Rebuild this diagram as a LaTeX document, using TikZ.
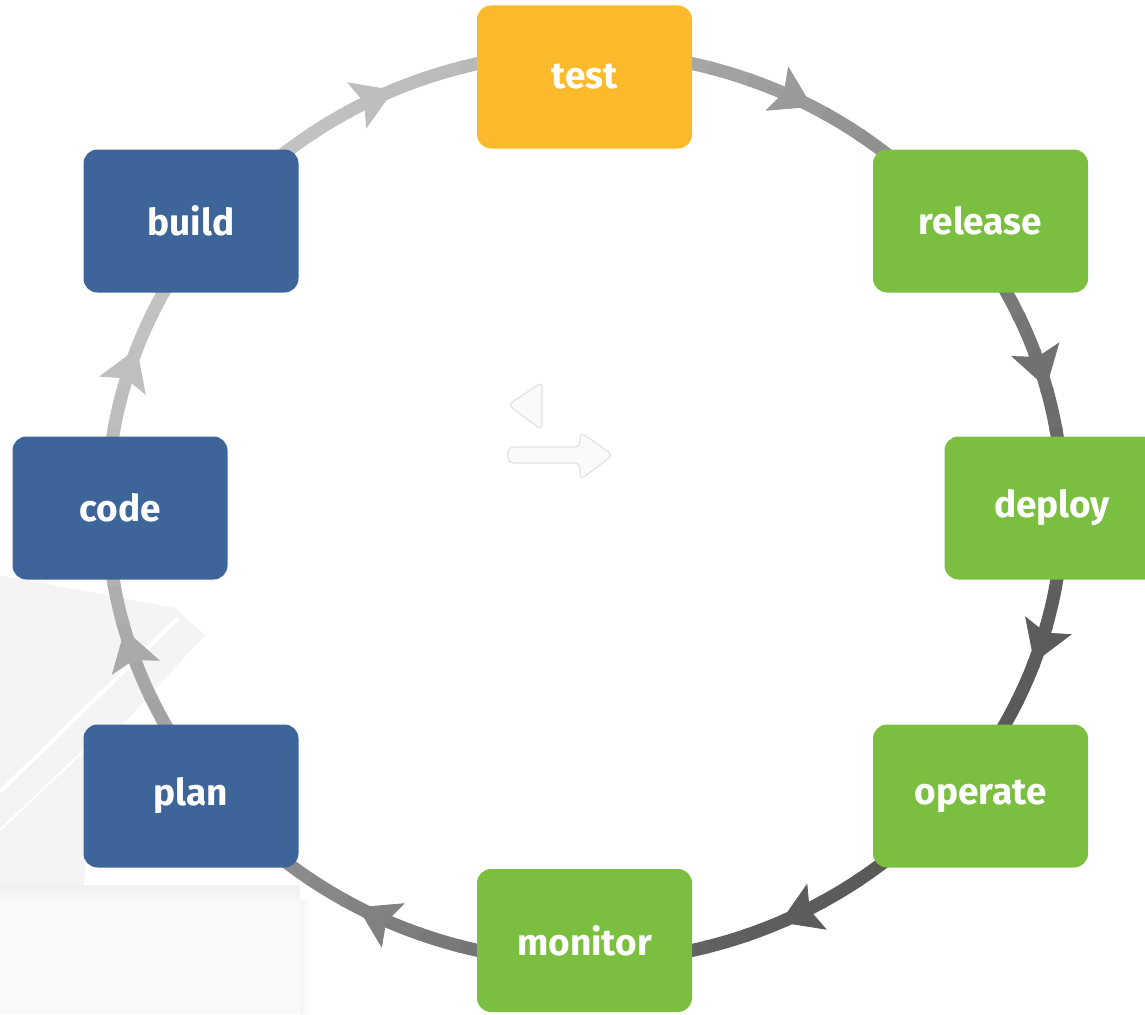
\documentclass[tikz,border=0pt]{standalone}
\usepackage{fontspec}
\setmainfont{Fira Sans}
\usetikzlibrary{arrows.meta}
\definecolor{nblue}{HTML}{3D659A}
\definecolor{ngreen}{HTML}{7BBF40}
\definecolor{nyellow}{HTML}{FBBA2C}
\definecolor{faint}{HTML}{F4F4F4}
\definecolor{faintb}{HTML}{F9F9F9}
\definecolor{iconline}{HTML}{E2E2E2}
\definecolor{iconfill}{HTML}{FAFAFA}
\begin{document}
\begin{tikzpicture}[x=1pt,y=-1pt,
  stepbox/.style={rounded corners=14pt, minimum width=215pt, minimum height=143pt,
    inner sep=0pt, text=white, font=\fontsize{37}{40}\selectfont\bfseries},
  bluebox/.style={stepbox, fill=nblue},
  greenbox/.style={stepbox, fill=ngreen},
  yellowbox/.style={stepbox, fill=nyellow},
  ringpiece/.style={line width=13pt, line cap=butt},
  tipstyle/.style={line width=0.8pt, -{Stealth[length=40pt,width=50pt,inset=8pt]}}
]
\useasboundingbox (0,0) rectangle (1145,1014);
\clip (0,0) rectangle (1145,1014);
% faint background shapes
\fill[faint] (0,575) -- (175,608) -- (205,635) -- (95,755) -- (84,885) -- (0,885) -- cycle;
\draw[white, line width=4pt] (0,792) -- (178,618);
\draw[white, line width=2pt] (0,830) -- (95,740);
\fill[faintb] (0,885) rectangle (300,1014);
\shade[top color=black!6, bottom color=faintb] (0,885) rectangle (300,902);
\shade[left color=black!4, right color=white] (300,900) rectangle (312,1014);
% centre icon
\draw[iconline, fill=iconfill, line width=1.2pt, rounded corners=5pt]
  (508,405) -- (542,382) -- (542,430) -- cycle;
\draw[iconline, fill=iconfill, line width=1.2pt, rounded corners=5pt]
  (508,447) -- (580,447) -- (580,432) -- (613,455) -- (580,480) -- (580,463) -- (508,463) -- cycle;
% ring
\coordinate (ringc) at (585,507);
\foreach \a in {0,5,...,355}{
  \pgfmathsetmacro\lv{0.555+0.21*cos(\a+2.5-220)}
  \definecolor{rc}{gray}{\lv}
  \draw[ringpiece, rc] (ringc) ++(\a:478 and 455) arc[start angle=\a, end angle=\a+5.4, x radius=478, y radius=455];
}
\foreach \m in {-64,-17.6,17.6,63.5,116,162,198,244}{
  \pgfmathsetmacro\lv{0.555+0.21*cos(\m-220)}
  \definecolor{rc}{gray}{\lv}
  \draw[tipstyle, rc, fill=rc] (ringc) ++(\m-5:478 and 455) arc[start angle=\m-5, end angle=\m+2.4, x radius=478, y radius=455];
}
% boxes
\node[yellowbox] (test) at (584.5,77) {test};
\node[greenbox] (release) at (980.5,221) {release};
\node[greenbox] (deploy) at (1052,508) {deploy};
\node[greenbox] (operate) at (980.5,796) {operate};
\node[greenbox] (monitor) at (584.5,940.5) {monitor};
\node[bluebox] (plan) at (191,796) {plan};
\node[bluebox] (code) at (120,508) {code};
\node[bluebox] (build) at (191,221) {build};
\end{tikzpicture}
\end{document}
